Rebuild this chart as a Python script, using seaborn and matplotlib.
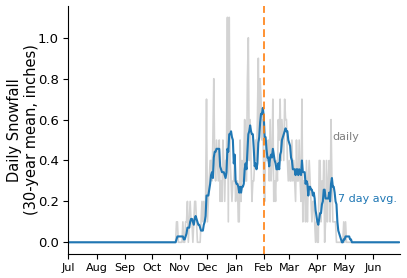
import numpy as np
import pandas as pd
import matplotlib
matplotlib.use("Agg")
import matplotlib.pyplot as plt
import seaborn as sns

# Daily 30-year mean snowfall, in tenths of an inch, one list per month (Jul -> Jun)
jul = [0] * 31
aug = [0] * 31
sep = [0] * 30
oct_ = [0] * 26 + [0, 1, 1, 0, 0]
nov = [0, 0, 0, 1, 0, 0, 1, 1, 2, 0, 1, 2, 1, 1, 0, 1, 2, 2, 1, 0,
       0, 0, 0, 1, 2, 1, 2, 1, 2, 7]
dec = [1, 2, 3, 4, 4, 3, 5, 8, 4, 3, 5, 4, 3, 5, 2, 3, 2, 5, 4, 2,
       4, 4, 11, 1, 11, 4, 3, 2, 3, 3, 4]
jan = [2, 3, 3, 1, 1, 5, 2, 4, 3, 4, 6, 3, 3, 8, 10, 4, 6, 4, 2, 3,
       3, 4, 5, 4, 6, 9, 5, 8, 7, 5, 6]
feb = [3, 2, 5, 4, 4, 5, 3, 6, 3, 4, 7, 2, 3, 2, 4, 3, 6, 5, 7, 4,
       6, 5, 4, 7, 6, 6, 4, 3]
mar = [4, 3, 3, 5, 3, 4, 3, 2, 5, 3, 3, 5, 3, 2, 7, 1, 3, 3, 1, 4,
       1, 3, 4, 3, 2, 1, 2, 2, 1, 0, 1]
apr = [0, 0, 4, 4, 1, 3, 2, 4, 0, 1, 4, 1, 3, 4, 1, 6, 3, 1, 1, 1,
       1, 0, 0, 0, 0, 0, 0, 0, 0, 1]
may = [0, 1] + [0] * 29
jun = [0] * 30

month_labels = ["Jul", "Aug", "Sep", "Oct", "Nov", "Dec",
                "Jan", "Feb", "Mar", "Apr", "May", "Jun"]
month_lengths = [31, 31, 30, 31, 30, 31, 31, 28, 31, 30, 31, 30]
marker_month = "Feb"

daily = np.array(jul + aug + sep + oct_ + nov + dec + jan + feb + mar + apr + may + jun) / 10.0
days = np.arange(len(daily))
df = pd.DataFrame({"day": days, "daily": daily})
df["avg"] = df["daily"].rolling(7, min_periods=1).mean()

month_starts = np.concatenate([[0], np.cumsum(month_lengths)[:-1]])

sns.set_style("ticks", {"axes.edgecolor": "black", "text.color": "black",
                        "xtick.color": "black", "ytick.color": "black",
                        "axes.labelcolor": "black"})
plt.rcParams["font.family"] = ["DejaVu Sans"]

fig = plt.figure(figsize=(4.07, 2.78), dpi=100)
ax = fig.add_axes([0.168, 0.088, 0.815, 0.89])

sns.lineplot(data=df, x="day", y="daily", color="#d3d3d3", linewidth=1.2, ax=ax)
sns.lineplot(data=df, x="day", y="avg", color="#1f77b4", linewidth=1.5, ax=ax)

feb_day = month_starts[month_labels.index(marker_month)]
ax.axvline(feb_day, color="#ff7f0e", linestyle=(0, (4, 2.2)), linewidth=1.4, alpha=0.85)

ax.set_xlim(0, 365)
ax.set_xticks(month_starts)
ax.set_xticklabels(month_labels, fontsize=8)
ax.tick_params(axis="y", labelsize=9.5)
ax.set_xlabel("")
ax.set_ylabel("Daily Snowfall\n(30-year mean, inches)", fontsize=10.5, labelpad=-1)

ax.text(291, 0.516, "daily", color="gray", fontsize=8, ha="left", va="center")
ax.text(297, 0.214, "7 day avg.", color="#1f77b4", fontsize=8, ha="left", va="center")

sns.despine(ax=ax)
fig.savefig("out.png", dpi=100)
